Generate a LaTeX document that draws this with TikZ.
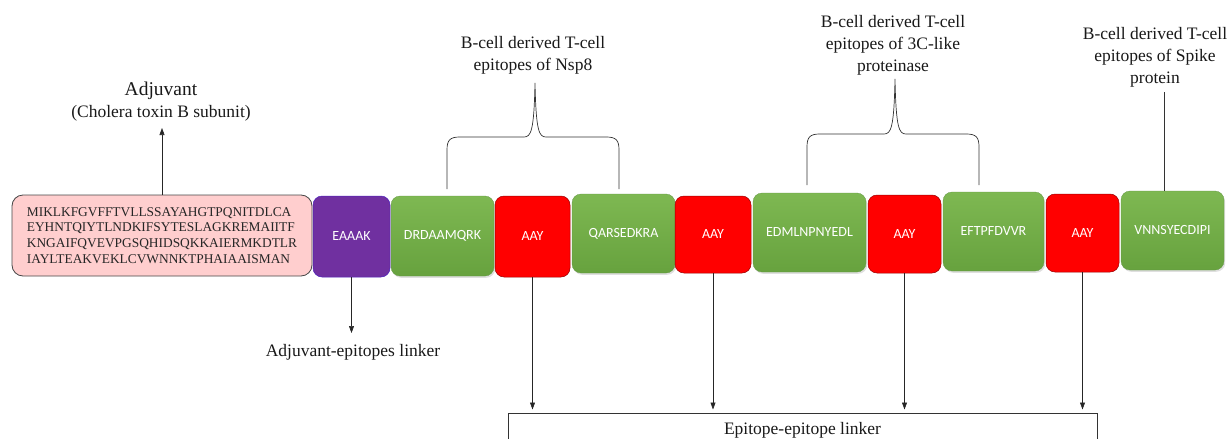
\documentclass[tikz,border=0pt]{standalone}
\usepackage{fontspec}
\setmainfont{Liberation Serif}
\newfontfamily\boxfont{Carlito}
\usetikzlibrary{arrows.meta,shadows}
\definecolor{gtop}{RGB}{126,184,82}
\definecolor{gbot}{RGB}{103,162,62}
\definecolor{gedge}{RGB}{100,150,70}
\definecolor{purp}{RGB}{112,48,160}
\definecolor{pinkfill}{RGB}{255,206,206}
\definecolor{pinkedge}{RGB}{70,70,70}
\tikzset{
  seg/.style={rounded corners=9pt, inner sep=0pt, text=white,
    font=\boxfont\fontsize{14}{16}\selectfont},
  greenbox/.style={seg, top color=gtop, bottom color=gbot, draw=gedge, line width=0.3pt,
    drop shadow={shadow xshift=1.2pt, shadow yshift=-1.8pt, opacity=0.25}},
  redbox/.style={seg, fill=red, draw=red!60!black, line width=0.5pt},
  purplebox/.style={seg, fill=purp, draw=purp!70!blue, line width=0.5pt},
  pinkbox/.style={rounded corners=11pt, fill=pinkfill, draw=pinkedge, line width=0.8pt,
    inner sep=0pt, align=left, text=black!85,
    font=\fontsize{13.4}{15.7}\selectfont},
  lbl/.style={align=center, inner sep=0pt, text=black!90,
    font=\fontsize{17.5}{21.8}\selectfont},
  arr/.style={-{Triangle[length=7pt,width=5pt]}, line width=0.6pt, draw=black!85},
  bracepath/.style={line width=0.7pt, draw=black!80},
}
\begin{document}
\begin{tikzpicture}[x=1pt,y=-1pt]
\useasboundingbox (0,0) rectangle (1229,439);

% chain of segments
\node[pinkbox, minimum width=300pt, minimum height=81pt] (pink) at (162,235.5)
  {MIKLKFGVFFTVLLSSAYAHGTPQNITDLCA\\EYHNTQIYTLNDKIFSYTESLAGKREMAIITF\\KNGAIFQVEVPGSQHIDSQKKAIERMKDTLR\\IAYLTEAKVEKLCVWNNKTPHAIAAISMAN};
\node[purplebox, minimum width=77pt, minimum height=81pt] (ea) at (351.5,236.5) {EAAAK};
\node[greenbox, minimum width=103pt, minimum height=80pt] (g1) at (442.5,236) {DRDAAMQRK};
\node[redbox, minimum width=75pt, minimum height=81pt] (r1) at (532.5,236.5) {AAY};
\node[greenbox, minimum width=103pt, minimum height=79pt] (g2) at (623.5,233.5) {QARSEDKRA};
\node[redbox, minimum width=76pt, minimum height=77pt] (r2) at (713,234.5) {AAY};
\node[greenbox, minimum width=113pt, minimum height=79pt] (g3) at (809.5,232.5) {EDMLNPNYEDL};
\node[redbox, minimum width=73pt, minimum height=78pt] (r3) at (904.5,234) {AAY};
\node[greenbox, minimum width=101pt, minimum height=79pt] (g4) at (993.5,231.5) {EFTPFDVVR};
\node[redbox, minimum width=73pt, minimum height=78pt] (r4) at (1082.5,233) {AAY};
\node[greenbox, minimum width=103pt, minimum height=79pt] (g5) at (1172.5,230.5) {VNNSYECDIPI};

% adjuvant label
\node[lbl, font=\fontsize{19.5}{22}\selectfont] (adj) at (161,91) {Adjuvant};
\node[lbl] (ctb) at (161,113) {(Cholera toxin B subunit)};
\coordinate (adjtip) at (162,128);
\draw[arr] (pink.north) -- (adjtip);

% adjuvant-epitopes linker
\node[lbl] (ael) at (353,352) {Adjuvant-epitopes linker};
\coordinate (aetip) at (351.5,333);
\draw[arr] (ea.south) -- (aetip);

% epitope-epitope linker box
\node[lbl, draw=black!80, line width=0.8pt, anchor=north, minimum width=589pt,
  inner xsep=0pt, inner ysep=9pt, text height=12pt, text depth=40pt]
  (eel) at (802.5,413) {Epitope-epitope linker};
\foreach \r in {r1,r2,r3,r4}{
  \draw[arr, shorten >=3.5pt] (\r.south) -- (\r.south |- eel.north);
}

% Nsp8 brace
\node[lbl] (nsp) at (533,55) {B-cell derived T-cell\\epitopes of Nsp8};
\coordinate (nspcusp) at (535,83);
\coordinate (nspL) at (447,189);
\coordinate (nspR) at (619,189);
\draw[bracepath] (nspL) -- (447,150) .. controls (447,140) and (450,137) .. (460,137)
  -- (524,137) .. controls (531,137) and (534,131) .. (nspcusp)
  .. controls (536,131) and (539,137) .. (546,137)
  -- (606,137) .. controls (616,137) and (619,140) .. (619,150) -- (nspR);

% 3C-like brace
\node[lbl] (tcl) at (893,45) {B-cell derived T-cell\\epitopes of 3C-like\\proteinase};
\coordinate (tclcusp) at (895,79);
\coordinate (tclL) at (807,185);
\coordinate (tclR) at (979,185);
\draw[bracepath] (tclL) -- (807,147) .. controls (807,137) and (810,134) .. (820,134)
  -- (884,134) .. controls (891,134) and (894,128) .. (tclcusp)
  .. controls (896,128) and (899,134) .. (906,134)
  -- (966,134) .. controls (976,134) and (979,137) .. (979,147) -- (tclR);

% Spike
\node[lbl] (spk) at (1155,57.5) {B-cell derived T-cell\\epitopes of Spike\\protein};
\coordinate (spktop) at (1164,92);
\draw[line width=0.7pt, draw=black!80] (spktop) -- (spktop |- g5.north);
\end{tikzpicture}
\end{document}
